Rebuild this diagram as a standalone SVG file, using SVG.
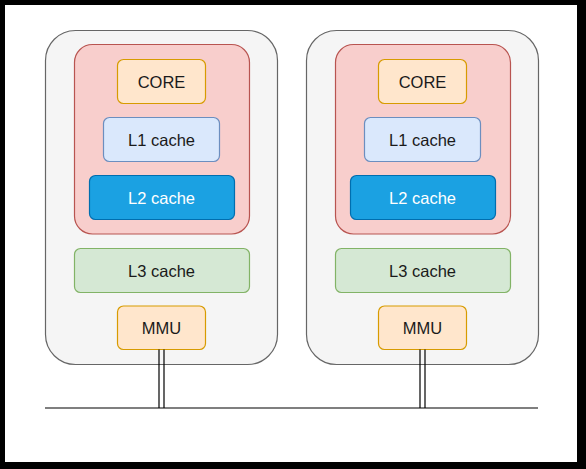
<svg xmlns="http://www.w3.org/2000/svg" width="586" height="469" viewBox="0 0 586 469">
<style>
.cpu{fill:#f5f5f5;stroke:#666666;stroke-width:1.2}
.clu{fill:#f8cecc;stroke:#b85450;stroke-width:1.2}
.or{fill:#ffe6cc;stroke:#d79b00;stroke-width:1.2}
.l1{fill:#dae8fc;stroke:#6c8ebf;stroke-width:1.2}
.l2{fill:#1ba1e2;stroke:#006eaf;stroke-width:1.2}
.l3{fill:#d5e8d4;stroke:#82b366;stroke-width:1.2}
text{font-family:"Liberation Sans",Arial,sans-serif;font-size:16.5px;text-anchor:middle;dominant-baseline:central;fill:#1a1a1a}
.w{fill:#ffffff}
.ln{stroke:#000000;stroke-width:1.2;fill:none}
</style>
<rect x="0" y="0" width="586" height="469" fill="#000000"/>
<rect x="5" y="5" width="572" height="457" fill="#ffffff"/>
<g id="cpu1">
<rect class="cpu" x="45.5" y="30.5" width="232" height="334" rx="30"/>
<rect class="clu" x="74.5" y="44.5" width="175" height="189.5" rx="18"/>
<g id="core1"><rect class="or" x="117.5" y="59.5" width="88" height="44" rx="6"/><text x="161.5" y="81.5">CORE</text></g>
<g id="l1a"><rect class="l1" x="103.5" y="117.5" width="116" height="44" rx="6"/><text x="161.5" y="139.5">L1 cache</text></g>
<g id="l2a"><rect class="l2" x="89.5" y="175.5" width="145" height="44" rx="6"/><text class="w" x="161.5" y="197.5">L2 cache</text></g>
<g id="l3a"><rect class="l3" x="74.5" y="248.5" width="175" height="44" rx="6"/><text x="161.5" y="270.5">L3 cache</text></g>
<g id="mmu1"><rect class="or" x="117.5" y="306" width="88" height="43.5" rx="6"/><text x="161.5" y="328">MMU</text></g>
</g>
<g id="cpu2">
<rect class="cpu" x="306.5" y="30.5" width="232" height="334" rx="30"/>
<rect class="clu" x="335.5" y="44.5" width="175" height="189.5" rx="18"/>
<g id="core2"><rect class="or" x="378.5" y="59.5" width="88" height="44" rx="6"/><text x="422.5" y="81.5">CORE</text></g>
<g id="l1b"><rect class="l1" x="364.5" y="117.5" width="116" height="44" rx="6"/><text x="422.5" y="139.5">L1 cache</text></g>
<g id="l2b"><rect class="l2" x="350.5" y="175.5" width="145" height="44" rx="6"/><text class="w" x="422.5" y="197.5">L2 cache</text></g>
<g id="l3b"><rect class="l3" x="335.5" y="248.5" width="175" height="44" rx="6"/><text x="422.5" y="270.5">L3 cache</text></g>
<g id="mmu2"><rect class="or" x="378.5" y="306" width="88" height="43.5" rx="6"/><text x="422.5" y="328">MMU</text></g>
</g>
<g id="connectors">
<line class="ln" x1="45" y1="408" x2="538" y2="408"/>
<line class="ln" x1="159" y1="349.5" x2="159" y2="408"/>
<line class="ln" x1="164" y1="349.5" x2="164" y2="408"/>
<line class="ln" x1="420" y1="349.5" x2="420" y2="408"/>
<line class="ln" x1="425" y1="349.5" x2="425" y2="408"/>
</g>
</svg>
